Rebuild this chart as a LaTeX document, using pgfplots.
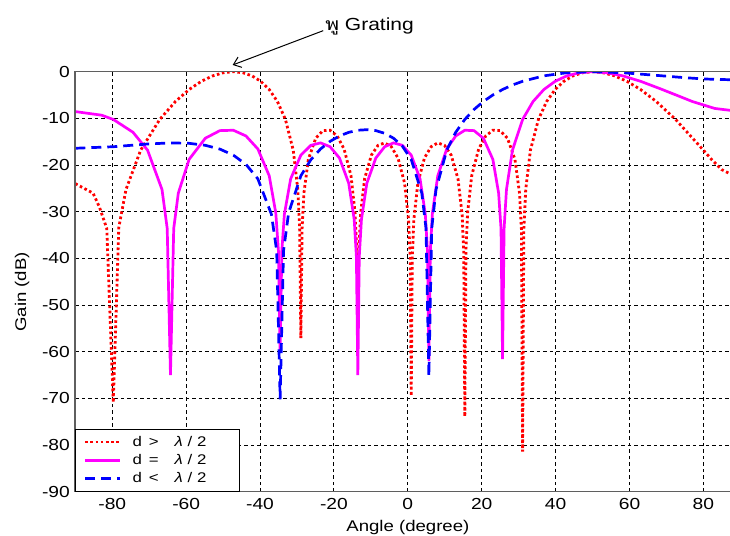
\documentclass[border=0pt]{standalone}
\usepackage{fontspec}
\setmainfont{Liberation Sans}[FakeStretch=1.2]
\newfontfamily\thaifont[Script=Thai,FakeStretch=1.2]{Loma}
\usepackage{pgfplots}
\pgfplotsset{compat=1.18}
\usetikzlibrary{arrows.meta}
\definecolor{mred}{RGB}{255,0,0}
\definecolor{mmag}{RGB}{255,0,255}
\definecolor{mblue}{RGB}{0,0,255}
\definecolor{axgray}{RGB}{95,95,95}
\begin{document}
\begin{tikzpicture}
\begin{axis}[
  scale only axis,
  width=654.7pt, height=420pt,
  xmin=-90, xmax=87.2, ymin=-90, ymax=0,
  clip mode=individual,
  axis line style={draw=none},
  xtick={-80,-60,-40,-20,0,20,40,60,80},
  xticklabels={-80,-60,-40,-20,0,20,40,60,80},
  ytick={-90,-80,-70,-60,-50,-40,-30,-20,-10,0},
  yticklabels={-90,-80,-70,-60,-50,-40,-30,-20,-10,0},
  major tick length=0pt,
  grid=major,
  major grid style={black, line width=0.9pt, dash pattern=on 3.5pt off 3pt},
  ticklabel style={font=\fontsize{16}{19}\selectfont},
  xticklabel style={yshift=-3pt},
  yticklabel style={xshift=-2pt},
  xlabel={Angle (degree)},
  ylabel={Gain (dB)},
  xlabel style={font=\fontsize{15.5}{18}\selectfont, at={(axis description cs:0.508,-0.085)}, anchor=center},
  ylabel style={font=\fontsize{15.5}{18}\selectfont, at={(axis description cs:-0.0814,0.4755)}, anchor=center},
  legend style={at={(rel axis cs:0,0)}, anchor=south west, draw=black, line width=1pt,
    fill=white, font=\fontsize{14}{16}\selectfont, row sep=2.5pt,
    inner xsep=8pt, inner ysep=5pt, nodes={inner sep=2pt}},
  legend cell align=left,
  legend image code/.code={\draw[#1] (0pt,0pt) -- (35pt,0pt);},
]
\addplot[mred, line width=2.8pt, dash pattern=on 2.6pt off 2.6pt] coordinates {
(-90,-23.99) (-85.18,-26.04) (-83.48,-28.99) (-81.48,-33.6) (-79.72,-70.9) (-78.23,-33.4)
(-76.28,-25.25) (-72.31,-16.82) (-67.14,-10.23) (-62.90,-6.39) (-59.20,-3.82) (-55.87,-2.06)
(-52.79,-0.89) (-49.93,-0.22) (-47.22,0) (-44.65,-0.22) (-42.18,-0.89) (-39.81,-2.06)
(-37.51,-3.82) (-35.29,-6.39) (-33.13,-10.23) (-31.01,-16.82) (-29.77,-25.25) (-29.28,-33.6)
(-28.95,-57.1) (-28.62,-33.6) (-28.13,-26.04) (-26.92,-18.80) (-24.93,-14.26) (-22.97,-12.63)
(-21.04,-12.55) (-19.13,-13.77) (-17.25,-16.56) (-15.38,-22.30) (-14.27,-30.29) (-13.83,-38.4)
(-13.53,-45) (-13.24,-38.4) (-12.80,-30.55) (-11.70,-22.96) (-9.87,-17.89) (-8.06,-15.78)
(-6.26,-15.26) (-4.46,-16.08) (-2.66,-18.50) (-0.87,-23.89) (0.20,-31.67) (0.63,-39.6)
(0.92,-69.5) (1.21,-39.6) (1.64,-31.67) (2.71,-23.89) (4.50,-18.50) (6.30,-16.08)
(8.11,-15.26) (9.92,-15.78) (11.74,-17.89) (13.58,-22.96) (14.69,-30.55) (15.13,-38.4)
(15.43,-73.9) (15.73,-38.4) (16.17,-30.29) (17.29,-22.30) (19.18,-16.56) (21.09,-13.77)
(23.02,-12.55) (24.98,-12.63) (26.97,-14.26) (29.00,-18.80) (30.23,-26.04) (30.74,-33.6)
(31.07,-81.4) (31.40,-33.6) (31.91,-25.25) (33.18,-16.82) (35.35,-10.23) (37.57,-6.39)
(39.87,-3.82) (42.24,-2.06) (44.71,-0.89) (47.29,-0.22) (50,0) (52.87,-0.22)
(55.95,-0.89) (59.30,-2.06) (63.00,-3.82) (67.25,-6.39) (72.47,-10.23) (80.00,-16.82)
(82.32,-18.90) (84.90,-20.97) (90,-22.99)
};
\addlegendentry{\hspace{9pt}d\hspace{7pt}>\hspace{16pt}\textit{λ} / 2\rule{23pt}{0pt}}
\addplot[mmag, line width=2.7pt] coordinates {
(-90,-8.55) (-82.88,-9.32) (-79.72,-10.23) (-74.39,-12.98) (-70.44,-16.82) (-66.53,-25.25)
(-65.12,-33.6) (-64.24,-65) (-63.36,-33.6) (-62.12,-26.04) (-59.20,-18.80) (-54.81,-14.26)
(-50.86,-12.63) (-47.22,-12.55) (-43.81,-13.77) (-40.59,-16.56) (-37.51,-22.30) (-35.73,-30.29)
(-35.02,-38.4) (-34.56,-60) (-34.10,-38.4) (-33.41,-30.55) (-31.71,-22.96) (-28.95,-17.89)
(-26.25,-15.78) (-23.62,-15.26) (-21.04,-16.08) (-18.50,-18.50) (-16.00,-23.89) (-14.51,-31.67)
(-13.92,-39.6) (-13.53,-65) (-13.14,-39.6) (-12.55,-31.67) (-11.09,-23.89) (-8.66,-18.50)
(-6.26,-16.08) (-3.86,-15.26) (-1.47,-15.78) (0.92,-17.89) (3.31,-22.96) (4.74,-30.55)
(5.32,-38.4) (5.70,-62) (6.09,-38.4) (6.66,-30.29) (8.11,-22.30) (10.53,-16.56)
(12.97,-13.77) (15.43,-12.55) (17.92,-12.63) (20.45,-14.26) (23.02,-18.80) (24.58,-26.04)
(25.22,-33.6) (25.64,-61.6) (26.06,-33.6) (26.70,-25.25) (28.32,-16.82) (31.07,-10.23)
(33.90,-6.39) (36.83,-3.82) (39.87,-2.06) (43.06,-0.89) (46.42,-0.22) (50,0)
(53.87,-0.22) (58.16,-0.89) (63.00,-2.06) (68.86,-3.82) (77.00,-6.39) (83.08,-7.88) (90,-8.55)
};
\addlegendentry{\hspace{9pt}d\hspace{7pt}=\hspace{16pt}\textit{λ} / 2\rule{23pt}{0pt}}
\addplot[mblue, line width=2.7pt, dash pattern=on 10pt off 6pt] coordinates {
(-90,-16.41) (-79.72,-16.08) (-70.44,-15.50) (-64.24,-15.26) (-59.20,-15.35) (-54.81,-15.78)
(-50.86,-16.59) (-47.22,-17.89) (-43.81,-19.86) (-40.59,-22.96) (-36.92,-30.55) (-35.49,-38.4)
(-34.56,-70.2) (-33.64,-38.4) (-32.27,-30.29) (-28.95,-22.30) (-26.25,-18.87) (-23.62,-16.56)
(-21.04,-14.93) (-18.50,-13.77) (-16.00,-13.00) (-13.53,-12.55) (-11.09,-12.43) (-8.66,-12.63)
(-6.26,-13.21) (-3.86,-14.26) (-1.47,-15.97) (0.92,-18.80) (3.79,-26.04) (4.93,-33.6)
(5.70,-65.3) (6.47,-33.6) (7.63,-25.25) (10.53,-16.82) (12.97,-12.98) (15.43,-10.23)
(17.92,-8.10) (20.45,-6.39) (23.02,-4.99) (25.64,-3.82) (28.32,-2.85) (31.07,-2.06)
(36.83,-0.89) (43.06,-0.22) (50,0) (58.16,-0.22) (68.86,-0.89) (75.03,-1.29)
(80.42,-1.57) (90,-1.79)
};
\addlegendentry{\hspace{9pt}d\hspace{7pt}<\hspace{16pt}\textit{λ} / 2\rule{23pt}{0pt}}
\draw[axgray, line width=1.6pt] (rel axis cs:1,1) -- (rel axis cs:0,1) -- (rel axis cs:0,0) -- (rel axis cs:1,0);
\draw[black, line width=1pt, -{Straight Barb[length=7pt,width=11pt]}] (axis cs:-22.9,8.79) -- (axis cs:-47.4,1.44);
\node[anchor=base west, inner sep=0pt, font=\fontsize{17.5}{20}\selectfont] at (axis cs:-22.4,8.93) {{\thaifont พู} Grating};
\coordinate (bbsw) at (rel axis cs:-0.1150,-0.1055);
\coordinate (bbne) at (rel axis cs:1,1.1707);
\end{axis}
\pgfresetboundingbox
\path[use as bounding box] (bbsw) rectangle (bbne);
\end{tikzpicture}
\end{document}
